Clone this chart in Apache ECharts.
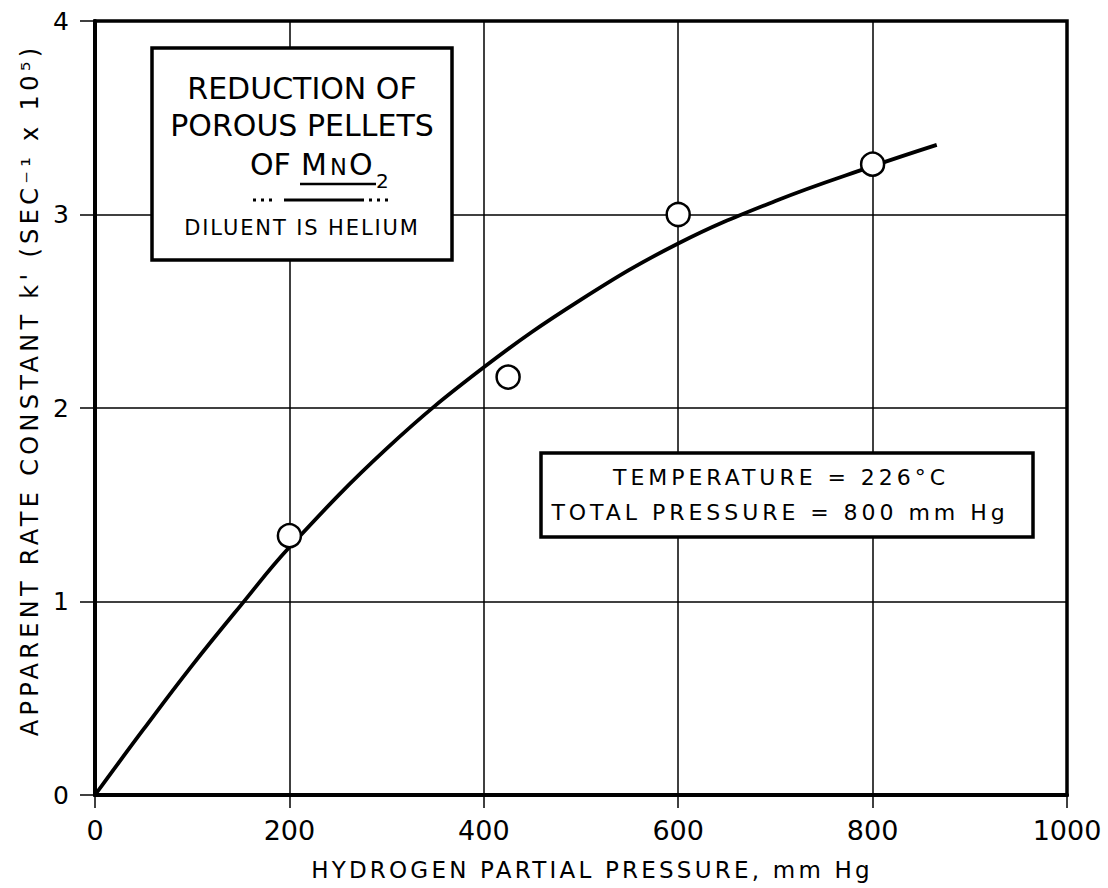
<!DOCTYPE html>
<html>
<head>
<meta charset="utf-8">
<script src="https://cdn.jsdelivr.net/npm/echarts@6/dist/echarts.min.js"></script>
<style>
html, body { margin: 0; padding: 0; background: #fff; }
#chart { width: 1108px; height: 888px; }
#chart text[style*="24px"] { letter-spacing: 0.18em; }
#chart text[style*="23px"] { letter-spacing: 0.14em; }
#chart text[style*="22px"] { letter-spacing: 0.18em; }
#chart text[style*="21px"] { letter-spacing: 0.09em; }
</style>
</head>
<body>
<div id="chart"></div>
<script>
// ---- data ----
const curveX = [0, 50, 100, 150, 200, 300, 400, 500, 600, 700, 800, 866];
const curveY = [0, 0.34, 0.67, 0.98, 1.28, 1.79, 2.21, 2.56, 2.85, 3.07, 3.25, 3.36];
const pointX = [200, 425, 600, 800];
const pointY = [1.34, 2.16, 3.0, 3.26];
const xTickLabels = ['0', '200', '400', '600', '800', '1000'];
const yTickLabels = ['0', '1', '2', '3', '4'];
const xTitle = 'HYDROGEN PARTIAL PRESSURE, mm Hg';
const yTitle = "APPARENT RATE CONSTANT k' (SEC\u207B\u00B9 x 10\u2075)";
const box1Lines = ['REDUCTION OF', 'POROUS PELLETS'];
const box1Formula = ['OF', 'M', 'N', 'O', '2'];
const box1Note = 'DILUENT IS HELIUM';
const box2Lines = ['TEMPERATURE = 226\u00B0C', 'TOTAL PRESSURE = 800 mm Hg'];

const FONT = 'DejaVu Sans';
const curveData = curveX.map((x, i) => [x, curveY[i]]);
const pointData = pointX.map((x, i) => [x, pointY[i]]);

const chart = echarts.init(document.getElementById('chart'), null, { renderer: 'svg' });

function txt(text, x, y, size, align, extra) {
  return Object.assign({
    type: 'text', z: 101, x: x, y: y,
    style: { text: text, fontFamily: FONT, fontSize: size, fill: '#000',
             align: align || 'center', verticalAlign: 'middle' }
  }, extra || {});
}

const graphics = [
  { type: 'rect', z: 100, shape: { x: 152, y: 48, width: 300, height: 212 },
    style: { fill: '#fff', stroke: '#000', lineWidth: 3.5 } },
  txt(box1Lines[0], 302, 88, 30),
  txt(box1Lines[1], 302, 125, 30),
  txt(box1Formula[0], 250, 164, 30, 'left'),
  txt(box1Formula[1], 301, 164, 30, 'left'),
  txt(box1Formula[2], 330, 166.5, 22.5, 'left'),
  txt(box1Formula[3], 349, 164, 30, 'left'),
  txt(box1Formula[4], 376, 181, 20, 'left'),
  { type: 'line', z: 101, shape: { x1: 300, y1: 184, x2: 376, y2: 184 },
    style: { stroke: '#000', lineWidth: 2.5 } },
  { type: 'line', z: 101, shape: { x1: 253, y1: 200, x2: 275, y2: 200 },
    style: { stroke: '#000', lineWidth: 3, lineDash: [3, 5] } },
  { type: 'line', z: 101, shape: { x1: 284, y1: 200, x2: 364, y2: 200 },
    style: { stroke: '#000', lineWidth: 3 } },
  { type: 'line', z: 101, shape: { x1: 369, y1: 200, x2: 391, y2: 200 },
    style: { stroke: '#000', lineWidth: 3, lineDash: [3, 5] } },
  txt(box1Note, 302, 228, 21),
  { type: 'rect', z: 100, shape: { x: 541, y: 453, width: 492, height: 84 },
    style: { fill: '#fff', stroke: '#000', lineWidth: 3.5 } },
  txt(box2Lines[0], 781, 477, 22),
  txt(box2Lines[1], 780, 512, 22)
];

const option = {
  animation: false,
  backgroundColor: '#fff',
  grid: { left: 95, right: 41, top: 21, bottom: 93, show: true,
          borderColor: '#000', borderWidth: 3.5, backgroundColor: 'transparent' },
  xAxis: {
    type: 'value', min: 0, max: 1000, interval: 200,
    name: xTitle, nameLocation: 'middle', nameGap: 63,
    nameTextStyle: { fontFamily: FONT, fontSize: 23, color: '#000', padding: [0, 0, 0, 22] },
    axisLine: { show: true, lineStyle: { color: '#000', width: 4 } },
    axisTick: { show: true, inside: false, length: 13, lineStyle: { color: '#000', width: 1.5 } },
    axisLabel: { margin: 22, fontFamily: FONT, fontSize: 27, color: '#000',
                 formatter: (v) => xTickLabels[Math.round(v / 200)] },
    splitLine: { show: true, lineStyle: { color: '#000', width: 1.5 } }
  },
  yAxis: {
    type: 'value', min: 0, max: 4, interval: 1,
    name: yTitle, nameLocation: 'middle', nameGap: 50,
    nameTextStyle: { fontFamily: FONT, fontSize: 24, color: '#000', padding: [0, 0, 0, 36] },
    axisLine: { show: true, lineStyle: { color: '#000', width: 4 } },
    axisTick: { show: true, inside: false, length: 15, lineStyle: { color: '#000', width: 1.5 } },
    axisLabel: { margin: 26, fontFamily: FONT, fontSize: 25, color: '#000',
                 formatter: (v) => yTickLabels[Math.round(v)] },
    splitLine: { show: true, lineStyle: { color: '#000', width: 1.5 } }
  },
  series: [
    { type: 'line', data: curveData, smooth: 0.4, showSymbol: false, symbol: 'none',
      clip: false, z: 3, lineStyle: { color: '#000', width: 3.8 } },
    { type: 'scatter', data: pointData, symbol: 'circle', symbolSize: 23, z: 5,
      itemStyle: { color: '#fff', borderColor: '#000', borderWidth: 2.5, opacity: 1 } }
  ],
  graphic: graphics
};
chart.setOption(option);
</script>
</body>
</html>
